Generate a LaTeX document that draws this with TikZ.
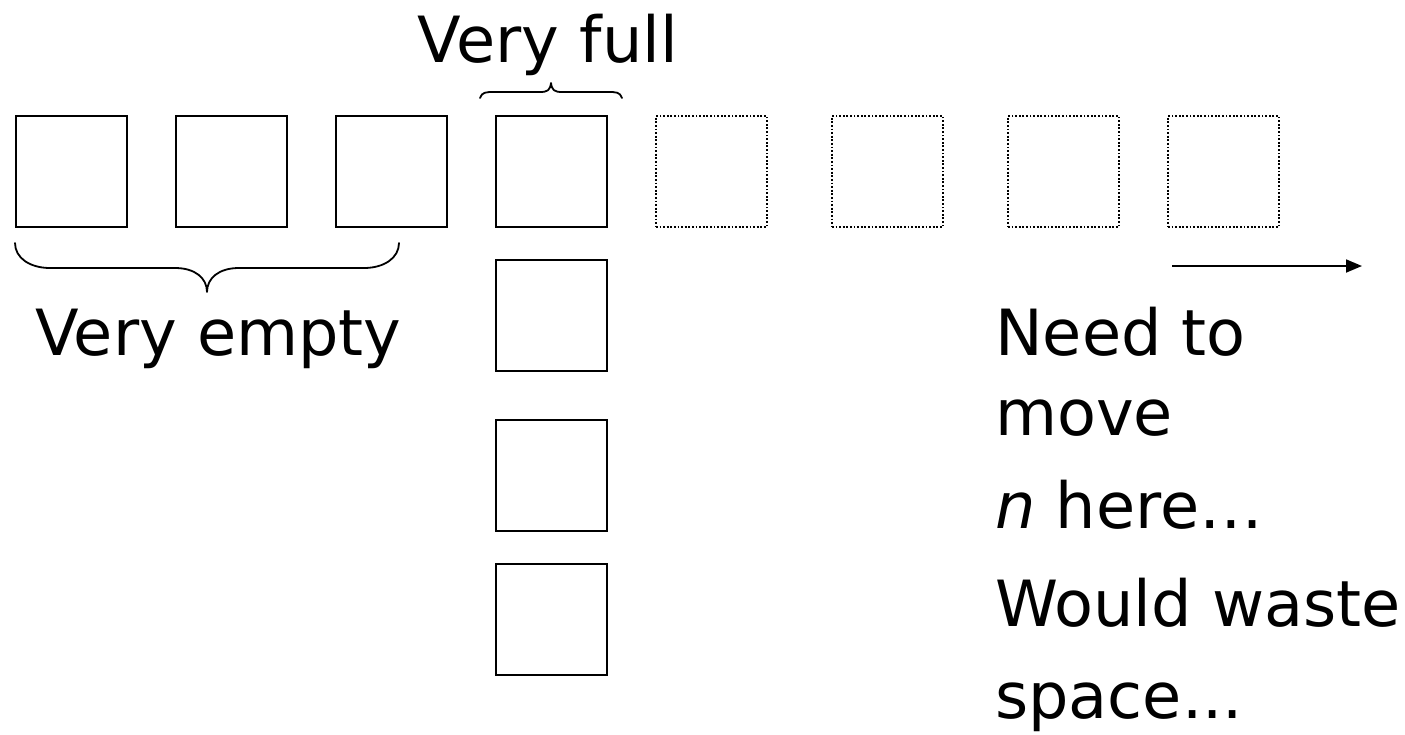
\documentclass[tikz,border=0pt]{standalone}
\usepackage{fontspec}
\setmainfont{DejaVu Sans}
\usetikzlibrary{arrows.meta}
\begin{document}
\begin{tikzpicture}[x=1pt,y=-1pt,
  cell/.style={draw, line width=1.8pt, minimum size=111pt, inner sep=0pt, anchor=north west},
  ghost/.style={cell, line width=1.8pt, dash pattern=on 1.8pt off 1.8pt},
  lbl/.style={font=\fontsize{63.7pt}{70pt}\selectfont, inner sep=0pt, anchor=base west},
  curly/.style={line width=1.8pt, line cap=round, line join=round}]
\useasboundingbox (0,0) rectangle (1405,734);
% top row
\node[cell] (c1) at (15,115) {};
\node[cell] (c2) at (175,115) {};
\node[cell] (c3) at (335,115) {};
\node[cell] (c4) at (495,115) {};
\node[ghost] (g1) at (655,115) {};
\node[ghost] (g2) at (831,115) {};
\node[ghost] (g3) at (1007,115) {};
\node[ghost] (g4) at (1167,115) {};
% column under the full slot
\node[cell] (d1) at (495,259) {};
\node[cell] (d2) at (495,419) {};
\node[cell] (d3) at (495,563) {};
% brace over the full slot
\draw[curly] (480,98) .. controls (482,92) and (486,92) .. (494,92) -- (540,92)
  .. controls (548,92) and (550,90) .. (551,83)
  .. controls (552,90) and (554,92) .. (562,92) -- (608,92)
  .. controls (616,92) and (620,92) .. (622,98);
% brace under the empty slots
\draw[curly] (15,243) .. controls (15,258) and (30,268) .. (50,268) -- (175,268)
  .. controls (195,268) and (207,278) .. (207,292)
  .. controls (207,278) and (219,268) .. (239,268) -- (364,268)
  .. controls (384,268) and (399,258) .. (399,243);
% growth arrow
\coordinate (a0) at (1172,266);
\coordinate (a1) at (1362,266);
\draw[line width=1.8pt, -{Triangle[length=16pt,width=13pt]}] (a0) -- (a1);
% labels
\node[lbl, anchor=base] (tfull) at (548,62) {Very full};
\node[lbl] (tempty) at (35,355) {Very empty};
\node[lbl] (t1) at (995,355) {Need to};
\node[lbl] (t2) at (995,435) {move};
\node[lbl] (t3) at (995,528) {\textit{n} here…};
\node[lbl] (t4) at (995,626) {Would waste};
\node[lbl] (t5) at (995,718) {space...};
\end{tikzpicture}
\end{document}
